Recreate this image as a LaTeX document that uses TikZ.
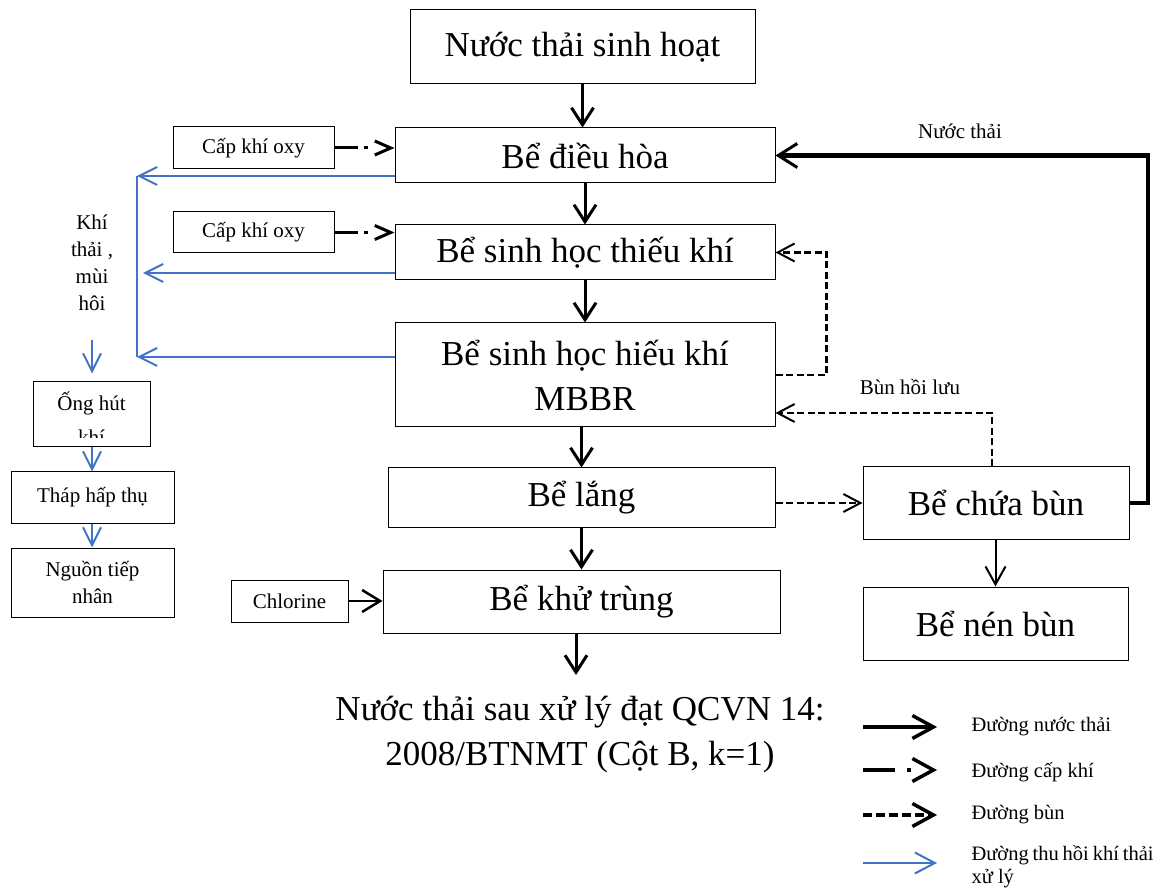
\documentclass[tikz,border=0pt]{standalone}
\usepackage{fontspec}
\setmainfont{Liberation Serif}
\usetikzlibrary{arrows.meta,calc}
\definecolor{gasblue}{RGB}{68,114,196}
\tikzset{
  box/.style={draw, line width=1pt, inner sep=0pt, align=center},
  big/.style={font=\fontsize{35}{45}\selectfont},
  small/.style={font=\fontsize{21}{27}\selectfont},
  flow/.style={line width=3pt, -{Straight Barb[length=17pt,width=22pt]}},
  airline/.style={line width=3pt, dash pattern=on 23pt off 6pt on 4pt off 40pt, -{Straight Barb[length=16pt,width=14pt]}},
  sludge/.style={line width=2.5pt, dash pattern=on 7pt off 3.5pt, -{Straight Barb[length=17pt,width=18pt,line width=2pt]}},
  gas/.style={gasblue, line width=2pt, -{Straight Barb[length=18pt,width=18pt]}},
  gasline/.style={gasblue, line width=2pt},
  thinflow/.style={line width=2pt, -{Straight Barb[length=18pt,width=20pt]}},
  chl/.style={line width=2.5pt, -{Straight Barb[length=18pt,width=22pt]}},
  ret/.style={line width=4.5pt, -{Straight Barb[length=19pt,width=24pt,line width=3pt]}},
  lg/.style={anchor=west, font=\fontsize{20.5}{26}\selectfont},
}
\begin{document}
\begin{tikzpicture}[x=1pt,y=-1pt]
\useasboundingbox (0,0) rectangle (1160,890);

% main column
\node[box,big,minimum width=345pt,minimum height=74pt] (src) at (582.5,47) {Nước thải sinh hoạt};
\node[box,big,minimum width=380pt,minimum height=55pt] (bdh) at (585,155.5) {Bể điều hòa};
\node[box,big,minimum width=380pt,minimum height=55pt] (tk) at (585,252.5) {Bể sinh học thiếu khí};
\node[box,big,minimum width=380pt,minimum height=104pt] (hk) at (585,375) {Bể sinh học hiếu khí\\MBBR};
\node[box,big,minimum width=387pt,minimum height=59pt] (bl) at (581.5,497.5) {Bể lắng};
\node[box,big,minimum width=397pt,minimum height=63pt] (kt) at (581.5,601.5) {Bể khử trùng};
\node[big,align=center] (out) at (580,734.5) {Nước thải sau xử lý đạt QCVN 14:\\2008/BTNMT (Cột B, k=1)};

% side inputs
\node[box,small,minimum width=161pt,minimum height=42pt] (ox1) at (253.5,148) {Cấp khí oxy};
\node[box,small,minimum width=161pt,minimum height=41pt] (ox2) at (253.5,232.5) {Cấp khí oxy};
\node[box,small,minimum width=117pt,minimum height=42pt] (cl) at (289.5,601) {Chlorine};

% sludge
\node[box,big,minimum width=266pt,minimum height=72pt] (cb) at (996,503) {Bể chứa bùn};
\node[box,big,minimum width=265pt,minimum height=73pt] (nb) at (995.5,623.5) {Bể nén bùn};

% gas treatment column
\node[small,align=center] (khi) at (92,263) {Khí\\thải ,\\mùi\\hôi};
\node[box,minimum width=117pt,minimum height=65pt] (oh) at (91.5,414.5) {};
\begin{scope}
  \clip (33,382) rectangle (150,438);
  \node[small,anchor=base] (ohA) at (91.5,411) {Ống hút};
  \node[small,anchor=base] (ohB) at (91.5,445) {khí};
\end{scope}
\node[box,small,minimum width=163pt,minimum height=51pt] (th) at (92.5,497.5) {Tháp hấp thụ};
\node[box,small,minimum width=163pt,minimum height=69pt] (ng) at (92.5,582.5) {Nguồn tiếp\\nhân};

% labels
\node[small] (lbnt) at (960,131) {Nước thải};
\node[small] (lbbh) at (910,387) {Bùn hồi lưu};

% main flow
\draw[flow] (src.south) -- (bdh.north -| src.south);
\draw[flow] (bdh.south) -- (tk.north);
\draw[flow] (tk.south) -- (hk.north);
\draw[flow] (hk.south -| bl.north) -- (bl.north);
\draw[flow] (bl.south) -- (kt.north);
\coordinate (outtip) at (576,675);
\draw[flow] (kt.south -| outtip) -- (outtip);

% air supply
\draw[airline] (ox1.east) -- (ox1.east -| bdh.west);
\draw[airline] (ox2.east) -- (ox2.east -| tk.west);
\draw[chl] (cl.east) -- (cl.east -| kt.west);

% sludge lines
\draw[sludge] (bl.east |- cb.west) -- (cb.west);
\draw[sludge] (hk.east) -- ++(51,0) |- (tk.east);
\draw[sludge] (cb.north -| 992,0) |- ([yshift=-38pt]hk.east);
\draw[thinflow] (cb.south -| nb.north) -- (nb.north);

% return water
\coordinate (rc1) at (1148,503);
\draw[ret] (cb.east) -- (rc1) |- (bdh.east);

% gas collection
\coordinate (gtop) at (137,176);
\coordinate (gbot) at (137,357);
\coordinate (gmid) at (143,273);
\draw[gasline] (gtop) -- (gbot);
\draw[gas] ([yshift=-20.5pt]bdh.west) -- (gtop);
\draw[gas] ([yshift=-20.5pt]tk.west) -- (gmid);
\draw[gas] ([yshift=18pt]hk.west) -- (gbot);
\coordinate (kdown) at (92,340);
\draw[gas] (kdown) -- ([yshift=8pt]oh.north -| kdown);
\draw[gas] (oh.south -| kdown) -- (th.north -| kdown);
\draw[gas] (th.south -| kdown) -- (ng.north -| kdown);

% legend
\coordinate (a1) at (863,727); \coordinate (b1) at (937,727);
\coordinate (a2) at (863,770); \coordinate (b2) at (937,770);
\coordinate (a3) at (863,815); \coordinate (b3) at (937,815);
\coordinate (a4) at (863,863); \coordinate (b4) at (937,863);
\draw[line width=4pt, -{Straight Barb[length=21pt,width=23pt,line width=3.5pt]}] (a1) -- (b1);
\draw[line width=4pt, dash pattern=on 32pt off 12pt on 4pt off 40pt, -{Straight Barb[length=21pt,width=23pt,line width=3.5pt]}] (a2) -- (b2);
\draw[line width=4pt, dash pattern=on 9pt off 4pt, -{Straight Barb[length=21pt,width=23pt,line width=3.5pt]}] (a3) -- (b3);
\draw[gasblue, line width=2pt, -{Straight Barb[length=20pt,width=21pt]}] (a4) -- (b4);
\node[lg] (l1) at (968,727) {Đường nước thải};
\node[lg] (l2) at (968,772) {Đường cấp khí};
\node[lg] (l3) at (968,815) {Đường bùn};
\node[lg,anchor=base west] (l4) at (968,860) {\hbox to 182pt{Đường\hfil thu\hfil hồi\hfil khí\hfil thải}};
\node[lg,anchor=base west] (l5) at (968,883) {xử lý};
\end{tikzpicture}
\end{document}
